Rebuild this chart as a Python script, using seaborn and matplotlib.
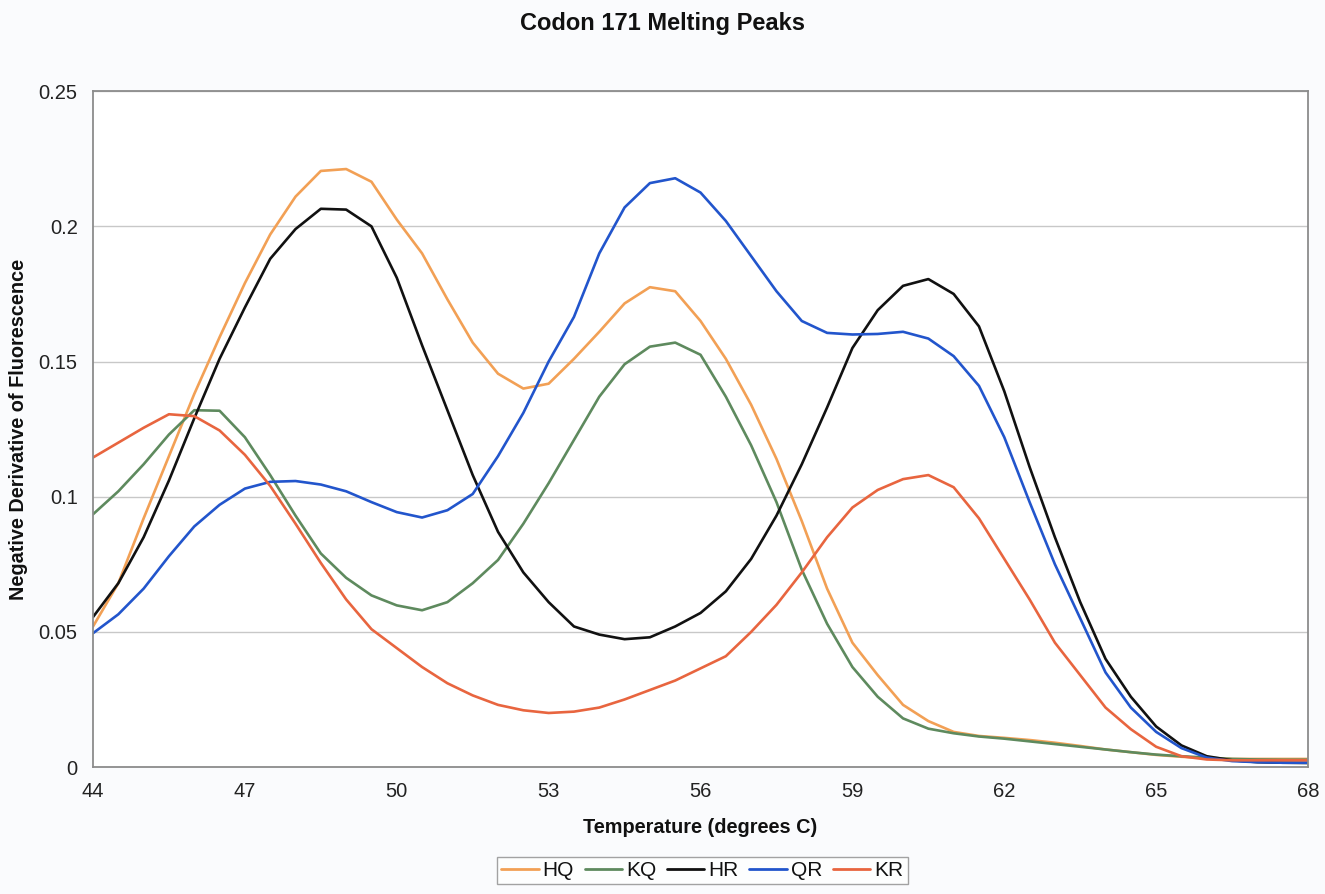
import numpy as np
import pandas as pd
import matplotlib
matplotlib.use("Agg")
import matplotlib.pyplot as plt
import seaborn as sns

temps = [44.0, 44.5, 45.0, 45.5, 46.0, 46.5, 47.0, 47.5, 48.0, 48.5, 49.0, 49.5,
         50.0, 50.5, 51.0, 51.5, 52.0, 52.5, 53.0, 53.5, 54.0, 54.5, 55.0, 55.5,
         56.0, 56.5, 57.0, 57.5, 58.0, 58.5, 59.0, 59.5, 60.0, 60.5, 61.0, 61.5,
         62.0, 62.5, 63.0, 63.5, 64.0, 64.5, 65.0, 65.5, 66.0, 66.5, 67.0, 67.5, 68.0]

hq = [0.052, 0.068, 0.092, 0.115, 0.138, 0.159, 0.179, 0.197, 0.211, 0.2205, 0.2212, 0.2165,
      0.2025, 0.190, 0.173, 0.157, 0.1455, 0.1400, 0.1418, 0.151, 0.161, 0.1715, 0.1775, 0.176,
      0.165, 0.151, 0.134, 0.114, 0.091, 0.066, 0.046, 0.034, 0.023, 0.017, 0.013, 0.0115,
      0.0108, 0.0100, 0.0090, 0.0078, 0.0065, 0.0055, 0.0045, 0.0038, 0.0033, 0.0030, 0.0030, 0.0030, 0.0030]

kq = [0.0935, 0.102, 0.112, 0.123, 0.132, 0.1318, 0.122, 0.108, 0.093, 0.079, 0.070, 0.0635,
      0.0598, 0.058, 0.061, 0.068, 0.0766, 0.090, 0.105, 0.121, 0.137, 0.149, 0.1555, 0.157,
      0.1525, 0.137, 0.119, 0.098, 0.073, 0.053, 0.037, 0.026, 0.018, 0.0142, 0.0125, 0.0113,
      0.0105, 0.0095, 0.0085, 0.0075, 0.0065, 0.0055, 0.0046, 0.0040, 0.0035, 0.0030, 0.0028, 0.0027, 0.0027]

hr = [0.0555, 0.068, 0.085, 0.106, 0.129, 0.151, 0.170, 0.188, 0.199, 0.2065, 0.2062, 0.200,
      0.181, 0.156, 0.132, 0.108, 0.087, 0.072, 0.061, 0.052, 0.049, 0.0473, 0.048, 0.052,
      0.057, 0.065, 0.077, 0.093, 0.112, 0.133, 0.155, 0.169, 0.178, 0.1805, 0.175, 0.163,
      0.139, 0.111, 0.085, 0.061, 0.040, 0.026, 0.015, 0.008, 0.004, 0.0025, 0.0018, 0.0016, 0.0015]

qr = [0.0495, 0.0565, 0.066, 0.078, 0.089, 0.097, 0.103, 0.1055, 0.1058, 0.1045, 0.102, 0.098,
      0.0943, 0.0923, 0.095, 0.101, 0.115, 0.131, 0.150, 0.1665, 0.190, 0.207, 0.216, 0.2178,
      0.2125, 0.202, 0.189, 0.176, 0.165, 0.1606, 0.160, 0.1602, 0.161, 0.1585, 0.152, 0.141,
      0.122, 0.098, 0.075, 0.055, 0.035, 0.022, 0.013, 0.007, 0.0035, 0.0022, 0.0018, 0.0016, 0.0016]

kr = [0.1145, 0.120, 0.1255, 0.1305, 0.1298, 0.1245, 0.1155, 0.104, 0.090, 0.0755, 0.062, 0.051,
      0.0440, 0.037, 0.031, 0.0265, 0.023, 0.021, 0.020, 0.0205, 0.022, 0.025, 0.0285, 0.032,
      0.0365, 0.041, 0.050, 0.060, 0.072, 0.085, 0.096, 0.1025, 0.1065, 0.108, 0.1035, 0.092,
      0.077, 0.062, 0.046, 0.034, 0.022, 0.014, 0.0075, 0.0040, 0.0028, 0.0025, 0.0025, 0.0025, 0.0025]

series_names = ["HQ", "KQ", "HR", "QR", "KR"]
series_values = [hq, kq, hr, qr, kr]
colors = ["#F2A055", "#5E8A5E", "#111111", "#2255CC", "#E8653F"]

x_ticks = [44, 47, 50, 53, 56, 59, 62, 65, 68]
y_ticks = [0, 0.05, 0.1, 0.15, 0.2, 0.25]
y_tick_labels = ["0", "0.05", "0.1", "0.15", "0.2", "0.25"]

df = pd.concat([pd.DataFrame({"Temperature": temps, "value": v, "series": n})
                for n, v in zip(series_names, series_values)], ignore_index=True)

sns.set_theme(style="white")
plt.rcParams['font.family'] = ['Liberation Sans', 'DejaVu Sans']
plt.rcParams['text.color'] = '#111111'
plt.rcParams['axes.labelcolor'] = '#111111'

fig = plt.figure(figsize=(13.25, 8.94), dpi=100)
fig.patch.set_facecolor("#FAFBFD")
ax = fig.add_axes([0.0702, 0.142, 0.917, 0.756])
ax.set_facecolor("white")

sns.lineplot(data=df, x="Temperature", y="value", hue="series",
             hue_order=series_names, palette=colors, linewidth=1.9,
             ax=ax, legend=False, sort=True)

ax.set_xlim(44, 68)
ax.set_ylim(0, 0.25)
ax.set_xticks(x_ticks)
ax.set_xticklabels([str(t) for t in x_ticks])
ax.set_yticks(y_ticks)
ax.set_yticklabels(y_tick_labels)
ax.grid(axis="y", color="#C8C8C8", linewidth=1.0)
ax.grid(axis="x", visible=False)
ax.set_axisbelow(True)
for s in ax.spines.values():
    s.set_color("#8C8C8C")
    s.set_linewidth(1.3)
ax.tick_params(axis="both", which="major", labelsize=14.5, colors="#222222",
               length=5, width=1, direction="out", pad=6)
ax.tick_params(axis="x", color="#8C8C8C")
ax.tick_params(axis="y", color="#8C8C8C")
ax.set_xlabel("Temperature (degrees C)", fontsize=14.3, fontweight="bold", labelpad=12)
ax.set_ylabel("Negative Derivative of Fluorescence", fontsize=14.3, fontweight="bold", labelpad=8)

fig.text(0.5, 0.974, "Codon 171 Melting Peaks", ha="center", va="center",
         fontsize=17, fontweight="bold", color="#111111")

handles = [plt.Line2D([0], [0], color=c, lw=2.0) for c in colors]
leg = fig.legend(handles, series_names, loc="center", bbox_to_anchor=(0.53, 0.026),
                 ncol=5, frameon=True, fontsize=15, handlelength=1.8, handletextpad=0.2,
                 columnspacing=0.5, borderpad=0.2, fancybox=False)
leg.get_frame().set_edgecolor("#8C8C8C")
leg.get_frame().set_linewidth(1.0)

fig.savefig("out.png", dpi=100, facecolor=fig.get_facecolor())
